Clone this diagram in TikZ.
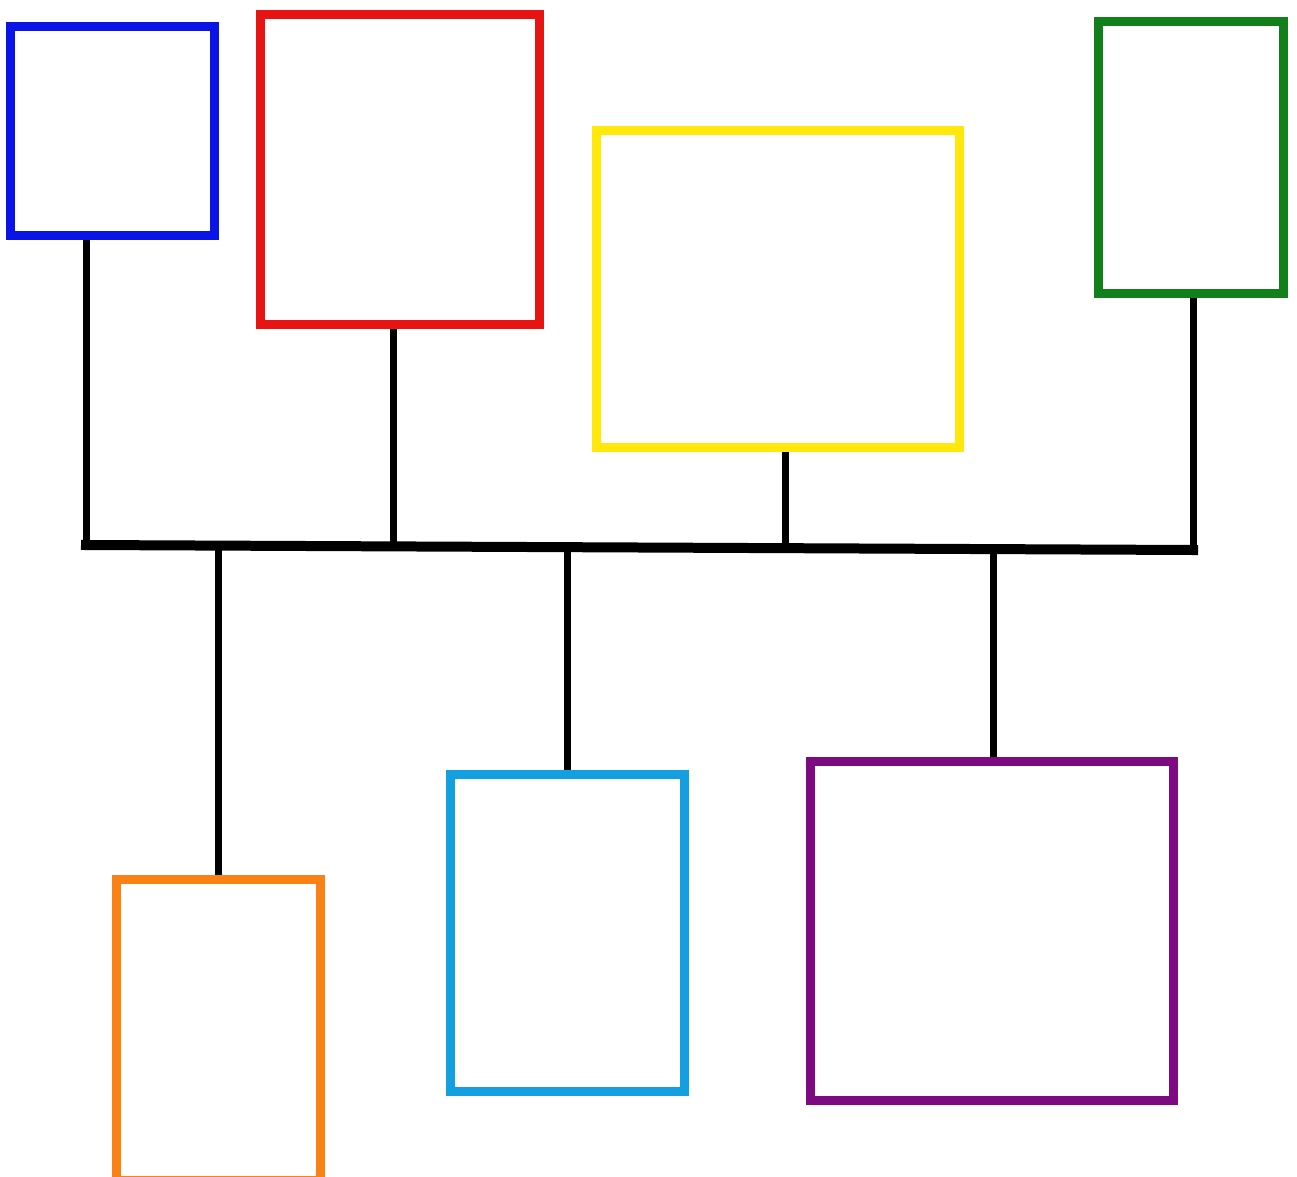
\documentclass[tikz,border=0pt]{standalone}
\usepackage{xcolor}
\usetikzlibrary{calc}
\definecolor{boxblue}{HTML}{0A14E6}
\definecolor{boxred}{HTML}{E81414}
\definecolor{boxyellow}{HTML}{FFE80A}
\definecolor{boxgreen}{HTML}{12801A}
\definecolor{boxorange}{HTML}{FA8214}
\definecolor{boxcyan}{HTML}{14A0E0}
\definecolor{boxpurple}{HTML}{7E0A82}
\tikzset{
  box/.style={
    rectangle, draw, fill=white, line width=0.18cm,
    inner sep=0pt
  },
  bluebox/.style={box, draw=boxblue},
  redbox/.style={box, draw=boxred},
  yellowbox/.style={box, draw=boxyellow},
  greenbox/.style={box, draw=boxgreen},
  orangebox/.style={box, draw=boxorange},
  cyanbox/.style={box, draw=boxcyan},
  purplebox/.style={box, draw=boxpurple},
  drop/.style={line width=0.14cm, draw=black},
  bus/.style={line width=0.2cm, draw=black, line cap=rect},
}

\begin{document}
\begin{tikzpicture}[x=0.02cm, y=-0.02cm]
  \useasboundingbox (0,0) rectangle (1297,1176);

  % top row
  \node[bluebox, minimum width=4.1cm, minimum height=4.18cm] (blu) at (112.5, 131) {};
  \node[redbox, minimum width=5.6cm, minimum height=6.22cm] (red) at (400, 169.5) {};
  \node[yellowbox, minimum width=7.28cm, minimum height=6.36cm] (yel) at (778, 289) {};
  \node[greenbox, minimum width=3.7cm, minimum height=5.46cm] (grn) at (1190.5, 157.5) {};

  % bottom row
  \node[orangebox, minimum width=4.1cm, minimum height=6.02cm] (org) at (218.5, 1030) {};
  \node[cyanbox, minimum width=4.7cm, minimum height=6.36cm] (cya) at (567.5, 933) {};
  \node[purplebox, minimum width=7.28cm, minimum height=6.8cm] (pur) at (992, 931) {};

  % bus and its joints
  \coordinate (busL) at (86, 545);
  \coordinate (busR) at (1193, 550);
  \coordinate (jRed) at (393, 546.4);
  \coordinate (jYel) at (785, 548.2);
  \coordinate (jOrg) at (218, 545.6);
  \coordinate (jCya) at (567, 547.2);
  \coordinate (jPur) at (993, 549.1);

  \draw[drop] (blu.south -| busL) -- (busL);
  \draw[drop] (red.south -| jRed) -- (jRed);
  \draw[drop] (yel.south -| jYel) -- (jYel);
  \draw[drop] (grn.south -| busR) -- (busR);
  \draw[drop] (jOrg) -- (org.north -| jOrg);
  \draw[drop] (jCya) -- (cya.north -| jCya);
  \draw[drop] (jPur) -- (pur.north -| jPur);
  \draw[bus] (busL) -- (busR);
\end{tikzpicture}
\end{document}
